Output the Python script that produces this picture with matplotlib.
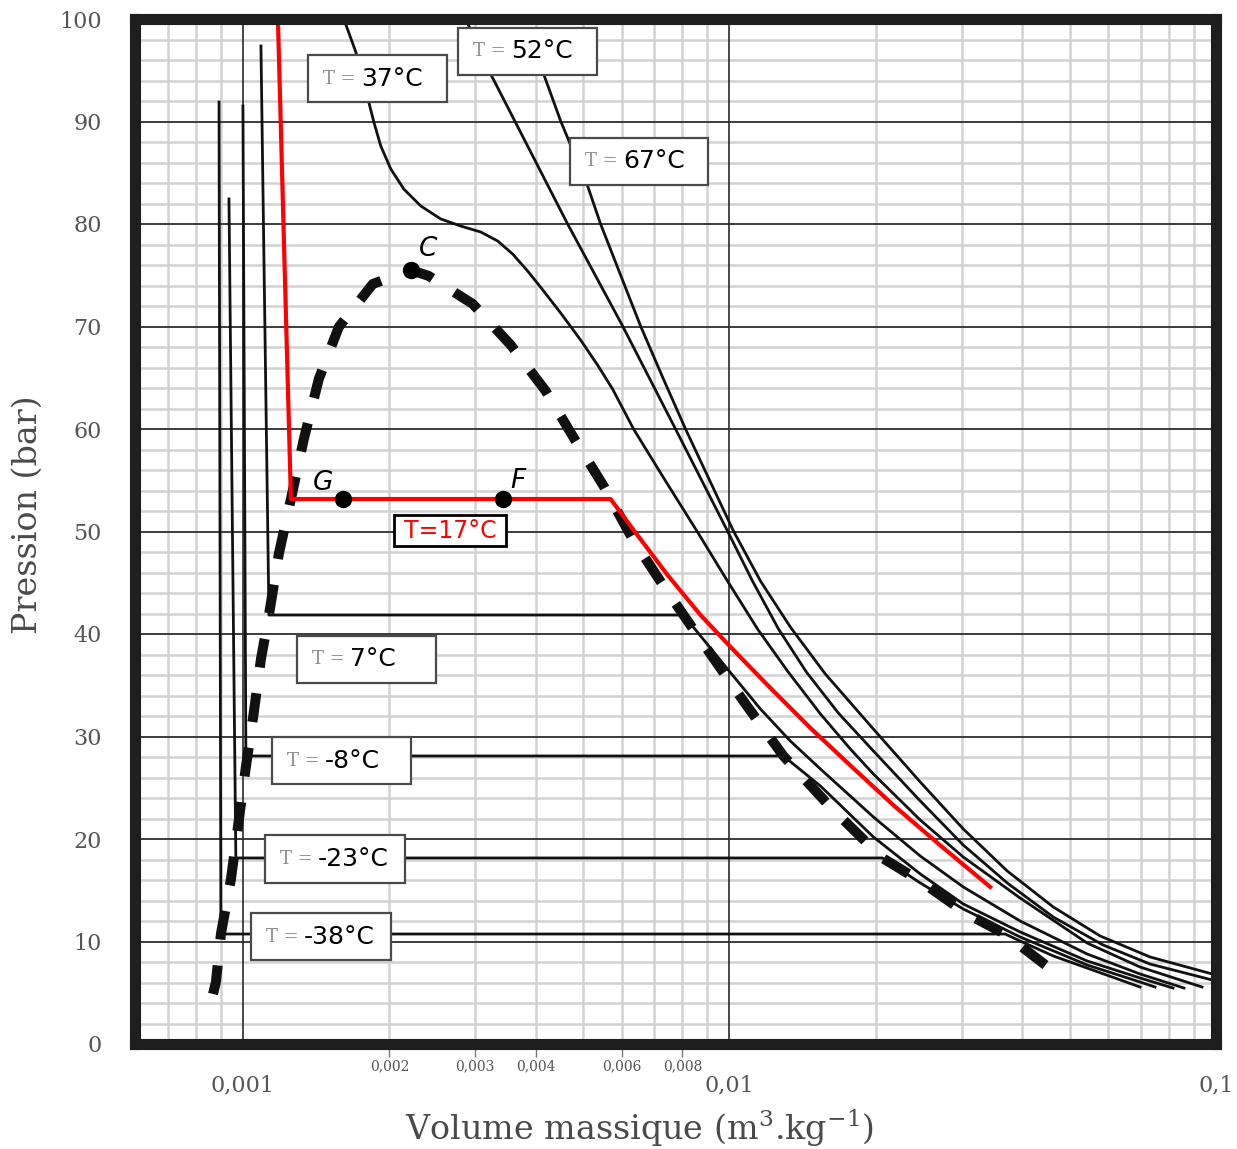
import matplotlib
matplotlib.use("Agg")
import matplotlib.pyplot as plt
from matplotlib.patches import Rectangle
from matplotlib.ticker import FixedLocator, FixedFormatter, NullLocator

plt.rcParams['mathtext.fontset'] = 'dejavuserif'

# ---------------- data (v in m3/kg, P in bar) ----------------
v_m38 = [0.000893, 0.000901, 0.03688, 0.03958, 0.04628, 0.05434, 0.06981]
p_m38 = [91.90, 10.73, 10.73, 10.05, 8.59, 7.41, 5.56]

v_m23 = [0.000936, 0.000967, 0.02062, 0.02467, 0.03024, 0.03958, 0.05434, 0.06981, 0.07494]
p_m23 = [82.44, 18.15, 18.15, 15.71, 13.17, 10.44, 7.71, 6.05, 5.56]

v_m8 = [0.001000, 0.001014, 0.01291, 0.01538, 0.01976, 0.02467, 0.03024, 0.03958,
        0.05434, 0.06981, 0.08160]
p_m8 = [91.51, 28.10, 28.10, 25.17, 20.20, 16.59, 13.66, 10.93, 8.10, 6.44, 5.46]

v_p7 = [0.001089, 0.001131, 0.008045, 0.009906, 0.01158, 0.01334, 0.01538, 0.01976,
        0.02467, 0.03024, 0.03958, 0.05434, 0.06981, 0.08596]
p_p7 = [97.37, 41.85, 41.85, 36.59, 32.68, 29.56, 26.83, 22.15, 18.34, 15.32, 12.00,
        8.78, 6.83, 5.46]

v_p17 = [0.001180, 0.001255, 0.005697, 0.006351, 0.007459, 0.008719, 0.01019, 0.01214,
         0.01474, 0.01823, 0.02182, 0.02737, 0.03435]
p_p17 = [100.0, 53.17, 53.17, 50.15, 45.76, 41.85, 38.44, 34.73, 30.73, 26.63, 23.22,
         19.22, 15.32]

v_p37 = [0.001612, 0.001706, 0.001814, 0.001858, 0.001920, 0.002013, 0.002141, 0.002320,
         0.002550, 0.002803, 0.003081, 0.003339, 0.003584, 0.003848, 0.004150, 0.004498,
         0.004944, 0.005357, 0.005751, 0.006351, 0.007389, 0.008596, 0.009906, 0.01142,
         0.01316, 0.01538, 0.01772, 0.01976, 0.02467, 0.03024, 0.03958, 0.05434, 0.06981,
         0.09360]
p_p37 = [100.0, 96.78, 91.90, 89.95, 87.61, 85.37, 83.41, 81.76, 80.49, 79.80, 79.22,
         78.34, 77.07, 75.41, 73.46, 71.32, 68.68, 66.24, 63.90, 60.00, 54.93, 49.95,
         45.17, 40.49, 36.39, 32.20, 28.78, 26.34, 21.85, 18.24, 14.24, 9.85, 7.51, 5.56]

v_p52 = [0.002870, 0.003230, 0.004649, 0.006030, 0.007747, 0.009906, 0.01115, 0.01261,
         0.01439, 0.01674, 0.01976, 0.02467, 0.03024, 0.03723, 0.04628, 0.05861, 0.07320,
         0.1000]
p_p52 = [100.0, 94.63, 80.00, 70.05, 60.00, 50.05, 45.17, 40.49, 36.29, 32.29, 28.59,
         23.71, 19.41, 15.71, 12.39, 9.66, 7.80, 6.15]

v_p67 = [0.003996, 0.004150, 0.004498, 0.005110, 0.005434, 0.005973, 0.006565, 0.007285,
         0.008122, 0.009098, 0.01019, 0.01158, 0.01334, 0.01574, 0.01976, 0.02467,
         0.03024, 0.03723, 0.04628, 0.05779, 0.07320, 0.1000]
p_p67 = [97.07, 94.63, 90.05, 83.71, 80.00, 75.02, 70.05, 65.07, 60.00, 55.02, 50.05,
         45.17, 40.68, 36.10, 30.73, 25.56, 20.98, 16.88, 13.37, 10.54, 8.49, 6.73]

# saturation dome (dashed)
v_sat = [0.000868, 0.000880, 0.000901, 0.000945, 0.000977, 0.001014, 0.001053, 0.001089,
         0.001131, 0.001185, 0.001255, 0.001334, 0.001432, 0.001574, 0.001849, 0.002213,
         0.002410, 0.002967, 0.003551, 0.004190, 0.004829, 0.005512, 0.005697, 0.006322,
         0.007320, 0.008045, 0.009141, 0.01079, 0.01291, 0.01612, 0.02062, 0.02467,
         0.03081, 0.03688, 0.04628]
p_sat = [4.88, 6.05, 10.73, 16.10, 21.27, 27.02, 32.39, 37.56, 41.85, 47.80, 53.17, 59.02,
         64.88, 69.95, 74.15, 75.51, 74.93, 72.20, 68.20, 63.71, 58.83, 54.44, 53.17, 49.27,
         44.68, 41.85, 38.05, 33.17, 28.10, 23.12, 18.15, 15.90, 12.68, 10.73, 7.12]

# named points
pt_names = ["C", "G", "F"]
pt_v = [0.002213, 0.001604, 0.003420]
pt_p = [75.51, 53.17, 53.17]

# axis ticks
y_ticks = [0, 10, 20, 30, 40, 50, 60, 70, 80, 90, 100]
x_major = [0.001, 0.01, 0.1]
x_major_lbl = ["0,001", "0,01", "0,1"]
x_minor = [0.002, 0.003, 0.004, 0.006, 0.008]
x_minor_lbl = ["0,002", "0,003", "0,004", "0,006", "0,008"]

iso_black = [(v_m38, p_m38), (v_m23, p_m23), (v_m8, p_m8), (v_p7, p_p7),
             (v_p37, p_p37), (v_p52, p_p52), (v_p67, p_p67)]
iso_labels = ["37°C", "52°C", "67°C", "7°C", "-8°C", "-23°C", "-38°C"]

# ---------------- figure ----------------
W, H = 1237, 1149
fig = plt.figure(figsize=(W / 100, H / 100), dpi=100)
AX_L, AX_R, AX_T, AX_B = 135, 1216, 19, 1044
ax = fig.add_axes([AX_L / W, 1 - AX_B / H, (AX_R - AX_L) / W, (AX_B - AX_T) / H])
ax.set_xscale('log')
ax.set_xlim(0.0006, 0.1)
ax.set_ylim(0, 100)

# grid
for p in range(2, 100, 2):
    if p % 10:
        ax.axhline(p, color='#d2d2d2', lw=1.8, zorder=0.5)
for p in range(10, 100, 10):
    ax.axhline(p, color='#3c3c3c', lw=1.4, zorder=0.6)
vminor = [0.0007, 0.0008, 0.0009] + [k * 0.001 for k in range(2, 10)] + [k * 0.01 for k in range(2, 10)]
for v in vminor:
    ax.axvline(v, color='#d2d2d2', lw=1.8, zorder=0.5)
for v in (0.001, 0.01):
    ax.axvline(v, color='#2a2a2a', lw=1.2, zorder=0.6)

# curves
for vv, pp in iso_black:
    ax.plot(vv, pp, color='#111111', lw=2.0, zorder=2, solid_joinstyle='round')
ax.plot(v_sat, p_sat, color='#111111', lw=7.2, dashes=(2.9, 2.6), zorder=3,
        dash_capstyle='butt')
ax.plot(v_p17, p_p17, color='#ff0000', lw=3.0, zorder=4, solid_joinstyle='round')
ax.plot(pt_v, pt_p, 'o', color='black', ms=11.5, zorder=5, linestyle='none')

def axf(px, py):
    return ((px - AX_L) / (AX_R - AX_L), (AX_B - py) / (AX_B - AX_T))

# point letters
letter_pos = [(428, 249), (323, 483), (518, 481)]
for name, (lx, ly) in zip(pt_names, letter_pos):
    fx, fy = axf(lx, ly)
    ax.text(fx, fy, name, transform=ax.transAxes, fontsize=19, style='italic',
            ha='center', va='center', family='DejaVu Sans', zorder=8)

# isotherm label boxes (px boxes: left, top, right, bottom)
boxes = [(308, 55, 447, 102), (458, 28, 597, 75), (570, 138, 708, 185),
         (297, 636, 436, 683), (272, 737, 411, 784), (265, 835, 405, 883),
         (251, 913, 391, 960)]
for lbl, (x0, y0, x1, y1) in zip(iso_labels, boxes):
    fx0, fy1 = axf(x0, y1)
    fx1, fy0 = axf(x1, y0)
    ax.add_patch(Rectangle((fx0, fy1), fx1 - fx0, fy0 - fy1, transform=ax.transAxes,
                           facecolor='white', edgecolor='#4a4a4a', lw=1.6, zorder=6))
    cy = (y0 + y1) / 2
    tx, ty = axf(x0 + 15, cy)
    ax.text(tx, ty, "T =", transform=ax.transAxes, fontsize=13, family='DejaVu Serif',
            color='#8c8c8c', ha='left', va='center', zorder=7)
    vx, vy = axf(x0 + 53, cy)
    ax.text(vx, vy, lbl, transform=ax.transAxes, fontsize=18, family='DejaVu Sans',
            color='black', ha='left', va='center', zorder=7)

# red label
fx0, fy1 = axf(394, 546)
fx1, fy0 = axf(506, 515)
ax.add_patch(Rectangle((fx0, fy1), fx1 - fx0, fy0 - fy1, transform=ax.transAxes,
                       facecolor='white', edgecolor='black', lw=2.0, zorder=6))
cx, cy = axf(450, 531)
ax.text(cx, cy, "T=17°C", transform=ax.transAxes, fontsize=17, family='DejaVu Sans',
        color='#ff0000', ha='center', va='center', zorder=7)

# ticks
ax.yaxis.set_major_locator(FixedLocator(y_ticks))
ax.yaxis.set_major_formatter(FixedFormatter([str(t) for t in y_ticks]))
ax.yaxis.set_minor_locator(NullLocator())
ax.tick_params(axis='y', which='major', length=0, pad=24, labelsize=16,
               labelcolor='#555555')
ax.xaxis.set_major_locator(FixedLocator(x_major))
ax.xaxis.set_major_formatter(FixedFormatter(x_major_lbl))
ax.xaxis.set_minor_locator(FixedLocator(x_minor))
ax.xaxis.set_minor_formatter(FixedFormatter(x_minor_lbl))
ax.tick_params(axis='x', which='major', length=0, pad=22, labelsize=16,
               labelcolor='#555555')
ax.tick_params(axis='x', which='minor', length=9, width=1.0, color='#777777',
               pad=2, labelsize=10, labelcolor='#555555', direction='out')
for lab in ax.get_xticklabels(which='both') + ax.get_yticklabels():
    lab.set_family('DejaVu Serif')

for s in ax.spines.values():
    s.set_linewidth(8)
    s.set_color('#1e1e1e')
    s.set_capstyle('projecting')
    s.set_zorder(9)

fig.text(28 / W, 1 - 515 / H, 'Pression (bar)', rotation=90, ha='center', va='center',
         fontsize=24, family='DejaVu Serif', color='#4a4a4a')
fig.text(640 / W, 1 - 1128 / H, r'Volume massique (m$^{3}$.kg$^{-1}$)', ha='center',
         va='center', fontsize=24, family='DejaVu Serif', color='#4a4a4a')

fig.savefig('out.png', dpi=100, facecolor='white')
